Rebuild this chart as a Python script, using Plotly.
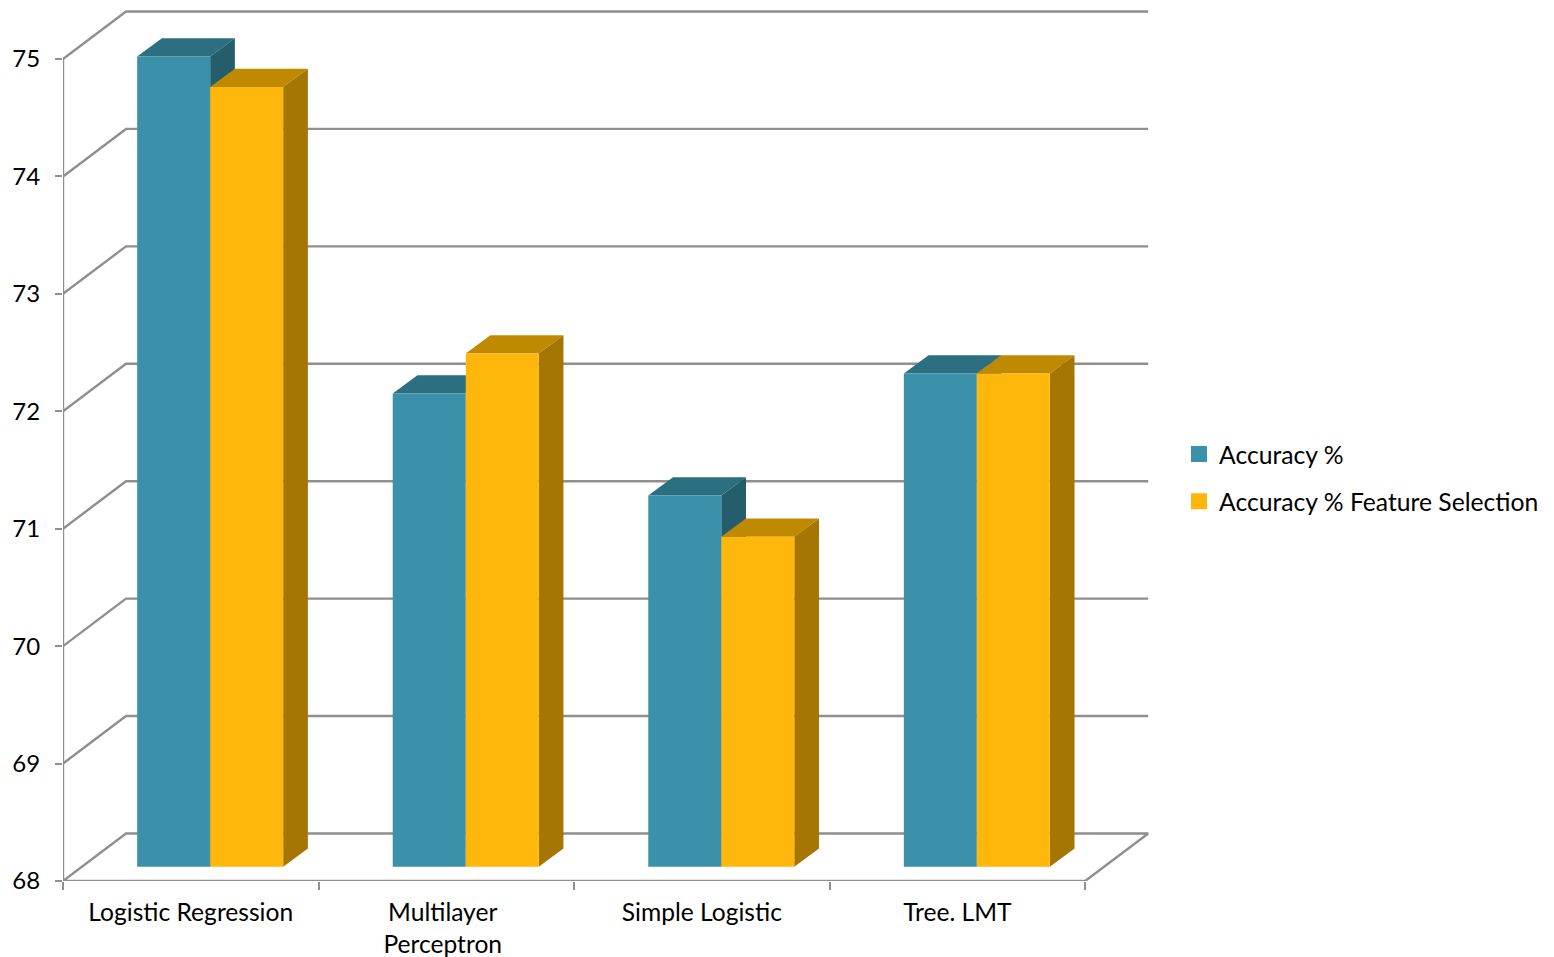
import plotly.graph_objects as go

# Chart data
categories = ["Logistic Regression", "Multilayer<br>Perceptron", "Simple Logistic", "Tree. LMT"]
accuracy = [74.90, 72.03, 71.16, 72.20]
accuracy_fs = [74.64, 72.37, 70.81, 72.20]
y_ticks = [68, 69, 70, 71, 72, 73, 74, 75]
series_names = ["Accuracy %", "Accuracy % Feature Selection"]

# Page geometry in pixels
W, H = 1554, 957
LEFT, RIGHT_EDGE, BOTTOM = 63, 1150, 881
PX_X, PX_Y = 255.55, 117.43  # pixels per category, pixels per axis unit

# Box-chart projection, in pixels
WALL_DX, WALL_DY = 63.0, 47.5
PLANE_DY = 14.3
DEPTH_DX, DEPTH_DY = 24.7, 18.3
BAR_W, GROUP_SHIFT = 73.0, 19.4

GRID = "#8F8F8F"
FONT = "Lato"
X_FONT_SIZE = 24.6
Y_FONT_SIZE = 24
LEGEND_FONT_SIZE = 24.7
FACE = ["#3A91A9", "#FFB70B"]
TOP = ["#2B6F80", "#C08A00"]
SIDE = ["#245E6C", "#A57604"]

x_min = -0.5
y_lo = 68.0
wall_x = WALL_DX / PX_X
wall_y = WALL_DY / PX_Y
plane_y = PLANE_DY / PX_Y
depth_x = DEPTH_DX / PX_X
depth_y = DEPTH_DY / PX_Y
bar_w = BAR_W / PX_X
x_end = x_min + len(categories)

fig = go.Figure()


def line_trace(xs, ys):
    fig.add_trace(go.Scatter(x=xs, y=ys, mode="lines", cliponaxis=False, showlegend=False,
                             hoverinfo="skip", line=dict(color=GRID, width=2.4)))


# Back wall gridlines with their slanted returns to the value axis
grid_x, grid_y = [], []
for v in y_ticks[1:]:
    grid_x += [x_min, x_min + wall_x, x_end + wall_x, None]
    grid_y += [v, v + wall_y, v + wall_y, None]
line_trace(grid_x, grid_y)

# Floor outline, then the value axis and the category axis
line_trace([x_min, x_min + wall_x, x_end + wall_x, x_end, x_min],
           [y_lo, y_lo + wall_y, y_lo + wall_y, y_lo, y_lo])
line_trace([x_min, x_min], [y_ticks[0], y_ticks[-1]])


def polygon(xs, ys, color):
    fig.add_trace(go.Scatter(x=xs, y=ys, mode="none", fill="toself", fillcolor=color,
                             showlegend=False, hoverinfo="skip"))


# Top and side faces of each column; the front faces go on an overlaid axis above these
for s, values in enumerate([accuracy, accuracy_fs]):
    for i, v in enumerate(values):
        x0 = i + (GROUP_SHIFT / PX_X) + (s - 1) * bar_w
        x1 = x0 + bar_w
        top = v + plane_y
        base = y_lo + plane_y
        polygon([x0, x0 + depth_x, x1 + depth_x, x1, x0],
                [top, top + depth_y, top + depth_y, top, top], TOP[s])
        polygon([x1, x1 + depth_x, x1 + depth_x, x1, x1],
                [top, top + depth_y, base + depth_y, base, top], SIDE[s])

# Front faces
for s, values in enumerate([accuracy, accuracy_fs]):
    fig.add_trace(go.Bar(x=list(range(len(categories))), y=[v - y_lo for v in values], base=y_lo,
                         width=bar_w, offset=(GROUP_SHIFT / PX_X) + (s - 1) * bar_w,
                         marker=dict(color=FACE[s], line=dict(width=0)),
                         yaxis="y2", showlegend=False, name=series_names[s],
                         hovertemplate="%{x}: %{y}<extra></extra>"))

# Legend keys
for s, name in enumerate(series_names):
    fig.add_trace(go.Scatter(x=[None], y=[None], mode="markers", name=name, legendgroup=name,
                             marker=dict(symbol="square", size=16, color=FACE[s])))

y_top = y_lo + BOTTOM / PX_Y
label_positions = [0, 0.986, 2, 3]  # the wrapped label sits slightly left of its slot
fig.update_layout(
    width=W, height=H,
    margin=dict(l=LEFT, r=W - RIGHT_EDGE, t=0, b=H - BOTTOM, autoexpand=False),
    paper_bgcolor="white", plot_bgcolor="rgba(0,0,0,0)",
    font=dict(family=FONT, size=X_FONT_SIZE, color="black"),
    barmode="overlay",
    xaxis=dict(range=[x_min, x_min + (RIGHT_EDGE - LEFT) / PX_X],
               tickmode="array", tickvals=label_positions, ticktext=categories,
               ticks="", showgrid=False, zeroline=False, showline=False,
               minor=dict(tickmode="array", tickvals=[x_min + i for i in range(len(categories) + 1)],
                          ticks="outside", ticklen=8, tickwidth=2.4, tickcolor=GRID, showgrid=False),
               ticklabelstandoff=14, tickangle=0, automargin=False,
               tickfont=dict(family=FONT, size=X_FONT_SIZE)),
    yaxis=dict(range=[y_lo, y_top], tickmode="array", tickvals=y_ticks,
               ticks="outside", ticklen=7, tickwidth=2.4, tickcolor=GRID,
               showgrid=False, zeroline=False, showline=False,
               ticklabelstandoff=10, automargin=False,
               tickfont=dict(family=FONT, size=Y_FONT_SIZE)),
    yaxis2=dict(range=[y_lo - plane_y, y_top - plane_y], overlaying="y", visible=False),
    legend=dict(xref="container", yref="container", x=1191 / W, y=1 - 431.5 / H,
                xanchor="left", yanchor="top", bgcolor="rgba(0,0,0,0)",
                tracegroupgap=12, indentation=-12, itemclick=False, itemdoubleclick=False,
                font=dict(family=FONT, size=LEGEND_FONT_SIZE, color="black")),
    showlegend=True,
)

fig.write_html("out.html")
